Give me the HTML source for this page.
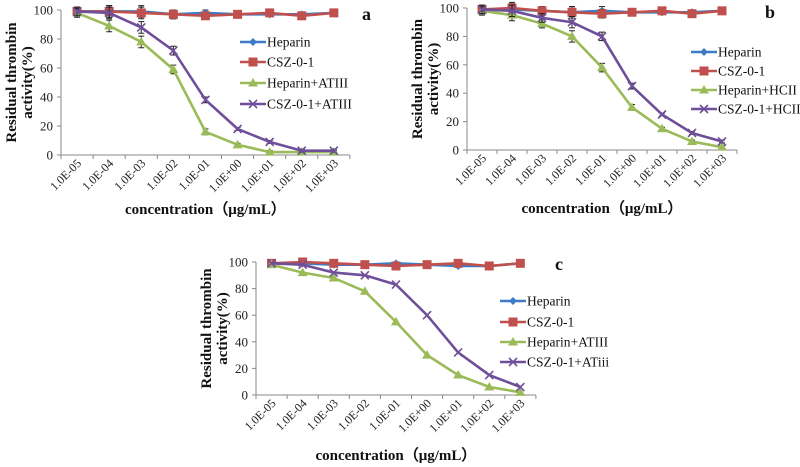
<!DOCTYPE html>
<html><head><meta charset="utf-8"><style>
body{margin:0;background:#fff;}
svg{display:block;font-family:"Liberation Serif",serif;}
</style></head><body>
<svg id="fig" width="800" height="467" viewBox="0 0 800 467" xmlns="http://www.w3.org/2000/svg"></svg>
<script>
const categories = ["1.0E-05","1.0E-04","1.0E-03","1.0E-02","1.0E-01","1.0E+00","1.0E+01","1.0E+02","1.0E+03"];
const yTicks = [0,20,40,60,80,100];
// panel a
const aHeparin = [99,99,99,97,98,97,97,97,98];
const aCSZ = [99,99,98,97,96,97,98,96,98];
const aHepATIII = [98,89,78,59,16,7,2,2,2];
const aCSZATIII = [99,98,88,72,38,18,9,3,3];
const aErr = [3,4,4,3,2,1,1,1,1];
// panel b
const bHeparin = [99,99,98,97,98,97,97,97,98];
const bCSZ = [99,100,98,97,96,97,98,96,98];
const bHepHCII = [98,95,89,80,58,30,15,6,2];
const bCSZHCII = [99,98,93,90,80,45,25,12,6];
const bErr = [3,4,3,4,3,2,1,1,1];
// panel c
const cHeparin = [99,99,98,98,99,98,97,97,99];
const cCSZ = [99,100,99,98,97,98,99,97,99];
const cHepATIII = [98,92,88,78,55,30,15,6,2];
const cCSZATiii = [99,98,92,90,83,60,32,15,6];

const NS="http://www.w3.org/2000/svg";
const svg=document.getElementById('fig');
function mk(tag,attrs,parent){const e=document.createElementNS(NS,tag);for(const k in attrs)e.setAttribute(k,attrs[k]);(parent||svg).appendChild(e);return e;}
const COLORS={hep:"#3d7cc4",csz:"#c0504d",green:"#9bbb59",purple:"#6f4f9a"};

function marker(g,type,x,y,color){
  let m;
  if(type==='diamond'){m=mk('path',{d:`M${x} ${y-4}L${x+4} ${y}L${x} ${y+4}L${x-4} ${y}Z`,fill:color},g);}
  else if(type==='square'){m=mk('rect',{x:x-4.5,y:y-4.5,width:9,height:9,fill:color},g);}
  else if(type==='tri'){m=mk('path',{d:`M${x} ${y-5}L${x+5} ${y+3.5}L${x-5} ${y+3.5}Z`,fill:color},g);}
  else {m=mk('path',{d:`M${x-4} ${y-4}L${x+4} ${y+4}M${x-4} ${y+4}L${x+4} ${y-4}`,stroke:color,'stroke-width':1.6,fill:'none'},g);}
  
  
}

function panel(p){
  const g=mk('g',{});
  
  
  const xPos=i=>p.x0+p.step*(i+0.5);
  const yPos=v=>p.y0-(p.y0-p.y100)*v/100;
  const right=p.x0+p.step*categories.length;
  const ya=mk('line',{x1:p.x0,y1:p.y100,x2:p.x0,y2:p.y0,stroke:'#888','stroke-width':1},g);
  
  const xa=mk('line',{x1:p.x0,y1:p.y0,x2:right,y2:p.y0,stroke:'#888','stroke-width':1},g);
  
  yTicks.forEach(t=>{
    const y=yPos(t);
    mk('line',{x1:p.x0-4,y1:y,x2:p.x0,y2:y,stroke:'#888'},g);
    const tx=mk('text',{x:p.x0-8,y:y+4.5,'text-anchor':'end','font-size':13,fill:'#222'},g);
    tx.textContent=t;
    
  });
  for(let i=0;i<=categories.length;i++){
    const x=p.x0+p.step*i;
    mk('line',{x1:x,y1:p.y0,x2:x,y2:p.y0+4,stroke:'#888'},g);
  }
  categories.forEach((c,i)=>{
    const x=xPos(i)+5, y=p.y0+9;
    const tx=mk('text',{x:x,y:y,'text-anchor':'end','font-size':12,fill:'#222',transform:`rotate(-45 ${x} ${y})`},g);
    tx.textContent=c;
    
  });
  const ty=mk('text',{'font-size':15,'font-weight':'bold','text-anchor':'middle',fill:'#111',transform:`translate(${p.x0-45},${(p.y0+p.y100)/2}) rotate(-90)`},g);
  const t1=mk('tspan',{x:0,dy:0},ty);t1.textContent='Residual thrombin';
  const t2=mk('tspan',{x:0,dy:16},ty);t2.textContent='activity(%)';
  
  const tx=mk('text',{x:(p.x0+right)/2,y:p.titleY,'text-anchor':'middle','font-size':15,'font-weight':'bold',fill:'#111'},g);
  tx.textContent='concentration（μg/mL）';
  
  const lt=mk('text',{x:p.letterX,y:p.letterY,'font-size':18,'font-weight':'bold',fill:'#111'},g);
  lt.textContent=p.letter;
  
  p.series.forEach((s,si)=>{
    const sg=mk('g',{},g);
    
    
    if(p.err){
      s.vals.forEach((v,i)=>{
        const e=p.err[i];
        const x=xPos(i);
        mk('path',{d:`M${x} ${yPos(v-e)}V${yPos(v+e)}M${x-3} ${yPos(v-e)}H${x+3}M${x-3} ${yPos(v+e)}H${x+3}`,stroke:'#222','stroke-width':1,fill:'none'},sg);
      });
    }
    const d=s.vals.map((v,i)=>(i?'L':'M')+xPos(i).toFixed(1)+' '+yPos(v).toFixed(1)).join('');
    const ln=mk('path',{d:d,stroke:s.color,'stroke-width':2.6,fill:'none'},sg);
    
    s.vals.forEach((v,i)=>marker(sg,s.marker,xPos(i),yPos(v),s.color));
    const ly=p.legY[si];
    const lg=mk('g',{},g);
    
    mk('line',{x1:p.legX,y1:ly,x2:p.legX+26,y2:ly,stroke:s.color,'stroke-width':2.6},lg);
    marker(lg,s.marker,p.legX+13,ly,s.color);
    const lt2=mk('text',{x:p.legX+27,y:ly+4.5,'font-size':13.5,fill:'#111'},lg);
    lt2.textContent=s.name;
  });
}

panel({letter:'a',x0:61,step:32.1,y0:155,y100:10,titleY:214,letterX:362,letterY:20,legX:240,legY:[42,62,83,104],err:aErr,
  series:[{name:'Heparin',vals:aHeparin,color:COLORS.hep,marker:'diamond'},
          {name:'CSZ-0-1',vals:aCSZ,color:COLORS.csz,marker:'square'},
          {name:'Heparin+ATIII',vals:aHepATIII,color:COLORS.green,marker:'tri'},
          {name:'CSZ-0-1+ATIII',vals:aCSZATIII,color:COLORS.purple,marker:'x'}]});
panel({letter:'b',x0:467,step:30,y0:150,y100:8,titleY:213,letterX:765,letterY:18,legX:691,legY:[52,71,90,109],err:bErr,
  series:[{name:'Heparin',vals:bHeparin,color:COLORS.hep,marker:'diamond'},
          {name:'CSZ-0-1',vals:bCSZ,color:COLORS.csz,marker:'square'},
          {name:'Heparin+HCII',vals:bHepHCII,color:COLORS.green,marker:'tri'},
          {name:'CSZ-0-1+HCII',vals:bCSZHCII,color:COLORS.purple,marker:'x'}]});
panel({letter:'c',x0:256,step:31.1,y0:395,y100:262,titleY:460,letterX:555,letterY:270,legX:500,legY:[301,322,342,362],err:null,
  series:[{name:'Heparin',vals:cHeparin,color:COLORS.hep,marker:'diamond'},
          {name:'CSZ-0-1',vals:cCSZ,color:COLORS.csz,marker:'square'},
          {name:'Heparin+ATIII',vals:cHepATIII,color:COLORS.green,marker:'tri'},
          {name:'CSZ-0-1+ATiii',vals:cCSZATiii,color:COLORS.purple,marker:'x'}]});
</script>
</body></html>
